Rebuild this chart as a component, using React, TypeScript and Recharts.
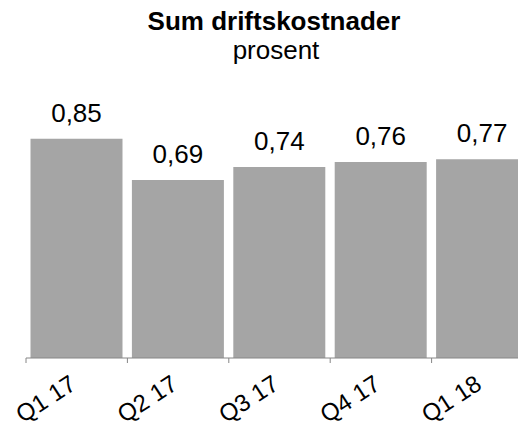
import { BarChart, Bar, XAxis, YAxis, LabelList } from 'recharts'

const categories = ['Q1 17', 'Q2 17', 'Q3 17', 'Q4 17', 'Q1 18']
const values = [0.85, 0.69, 0.74, 0.76, 0.77]

const title = 'Sum driftskostnader'
const subtitle = 'prosent'

const chartData = categories.map((label, i) => ({ label, value: values[i] }))

const CHART_W = 525
const CHART_H = 421
const MARGIN = { top: 92, right: 0, left: 18, bottom: 8 }
const PLOT_H = 258
const halfBand = (CHART_W - MARGIN.left - MARGIN.right) / categories.length / 2
const font = '"Liberation Sans", Arial, sans-serif'

function CategoryTick(props: any) {
  const { x, y, payload } = props
  const lx = x - halfBand
  const ex = x + 1
  const ey = y + 30
  return (
    <g>
      <line x1={lx} y1={y} x2={lx} y2={y + 5} stroke="#868686" strokeWidth={1} />
      <text
        x={ex}
        y={ey}
        textAnchor="end"
        transform={`rotate(-33, ${ex}, ${ey})`}
        fontSize={24}
        fontFamily={font}
        fill="#000"
      >
        {payload.value}
      </text>
    </g>
  )
}

export default function App() {
  return (
    <div style={{ position: 'relative', width: 518, height: CHART_H, marginBottom: -8 }}>
      <div style={{ width: 518, height: CHART_H, overflow: 'hidden' }}>
        <BarChart
          width={CHART_W}
          height={CHART_H}
          data={chartData}
          margin={MARGIN}
          barCategoryGap={4.5}
        >
          <XAxis
            dataKey="label"
            height={CHART_H - MARGIN.top - MARGIN.bottom - PLOT_H}
            axisLine={{ stroke: '#868686', strokeWidth: 1 }}
            tickLine={false}
            tickSize={0}
            tickMargin={0}
            interval={0}
            tick={<CategoryTick />}
          />
          <YAxis hide domain={[0, 1]} />
          <Bar dataKey="value" fill="#a5a5a5" isAnimationActive={false}>
            <LabelList
              dataKey="value"
              position="top"
              offset={17}
              formatter={(v: any) => Number(v).toFixed(2).replace('.', ',')}
              style={{ fontSize: 26, fontFamily: font, fill: '#000' }}
            />
          </Bar>
        </BarChart>
      </div>
      <svg
        width={518}
        height={90}
        style={{ position: 'absolute', left: 0, top: -8, pointerEvents: 'none', overflow: 'visible' }}
      >
        <text x={266} y={30} textAnchor="middle" fontSize={26} fontWeight="bold" fontFamily={font} fill="#000">
          {title}
        </text>
        <text x={268} y={59} textAnchor="middle" fontSize={26} fontFamily={font} fill="#000">
          {subtitle}
        </text>
      </svg>
    </div>
  )
}
